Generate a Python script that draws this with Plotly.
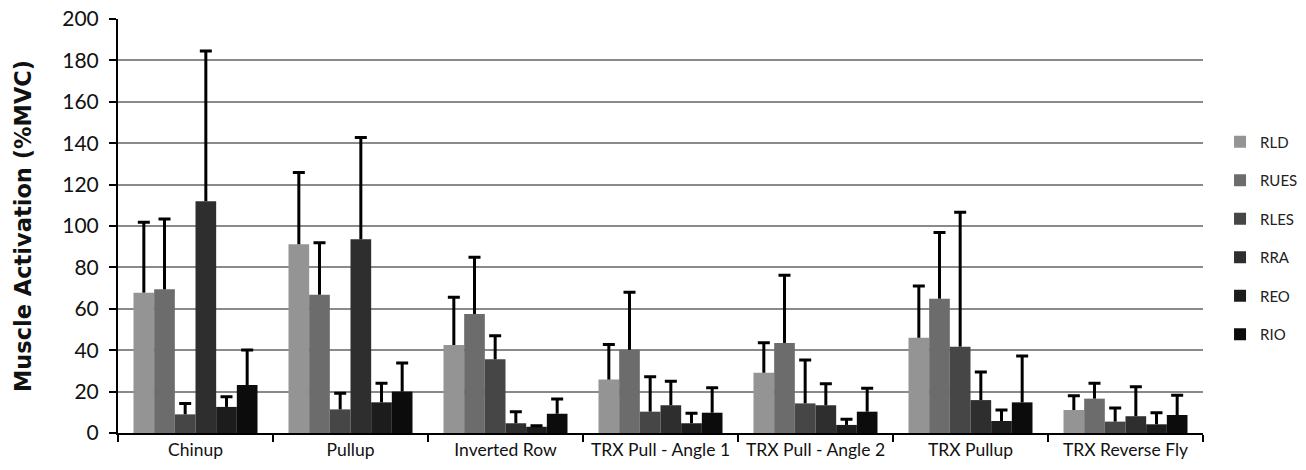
import plotly.graph_objects as go

categories = ["Chinup", "Pullup", "Inverted Row", "TRX Pull - Angle 1",
              "TRX Pull - Angle 2", "TRX Pullup", "TRX Reverse Fly"]
series_names = ["RLD", "RUES", "RLES", "RRA", "REO", "RIO"]

RLD = [67.8, 91.2, 42.5, 25.8, 29.1, 46.0, 11.1]
RUES = [69.4, 66.8, 57.5, 40.2, 43.5, 64.9, 16.6]
RLES = [9.0, 11.4, 35.6, 10.3, 14.3, 41.7, 5.5]
RRA = [112.0, 93.6, 4.7, 13.4, 13.4, 15.9, 8.1]
REO = [12.6, 14.8, 3.0, 4.7, 3.9, 5.8, 4.2]
RIO = [23.2, 20.0, 9.3, 9.8, 10.3, 14.8, 8.7]

RLD_sd = [34.0, 34.6, 23.1, 17.0, 14.5, 25.0, 6.9]
RUES_sd = [34.0, 25.1, 27.4, 27.8, 32.7, 31.9, 7.4]
RLES_sd = [5.3, 7.8, 11.4, 16.9, 21.0, 64.9, 6.6]
RRA_sd = [72.5, 49.2, 5.6, 11.6, 10.4, 13.6, 14.3]
REO_sd = [4.9, 9.2, 0.5, 4.8, 2.7, 5.3, 5.6]
RIO_sd = [16.9, 13.8, 7.1, 12.1, 11.3, 22.4, 9.5]

values = [RLD, RUES, RLES, RRA, REO, RIO]
errors = [RLD_sd, RUES_sd, RLES_sd, RRA_sd, REO_sd, RIO_sd]
colors = ["#949494", "#6c6c6c", "#464646", "#2e2e2e", "#1c1c1c", "#0c0c0c"]

fig = go.Figure()
for name, v, e, c in zip(series_names, values, errors, colors):
    # visible bars with the vertical error line (no caps)
    fig.add_trace(go.Bar(
        name=name, x=categories, y=v, marker=dict(color=c, line=dict(width=0)),
        legendgroup=name, offsetgroup=name,
        error_y=dict(type="data", array=e, arrayminus=[0] * len(e), symmetric=False,
                     color="black", thickness=3, width=0),
    ))
for name, v, e in zip(series_names, values, errors):
    # invisible helper bars, only to put the cap on top of each error line
    tops = [a + b for a, b in zip(v, e)]
    fig.add_trace(go.Bar(
        name=name, x=categories, y=tops, marker=dict(color="rgba(0,0,0,0)", line=dict(width=0)),
        offsetgroup=name, showlegend=False, hoverinfo="skip",
        error_y=dict(type="data", array=[0] * len(e), symmetric=True,
                     color="black", thickness=3, width=6),
    ))

fig.update_layout(
    width=1306, height=470,
    barmode="group", bargap=0.2, bargroupgap=0,
    plot_bgcolor="white", paper_bgcolor="white",
    margin=dict(l=118, r=103, t=19, b=37, autoexpand=False),
    font=dict(family="Lato, Liberation Sans, sans-serif", color="black"),
    showlegend=True,
    legend=dict(x=1.0157, xanchor="left", y=0.471, yanchor="middle",
                traceorder="grouped", tracegroupgap=16,
                font=dict(size=15, color="#222"), itemwidth=30,
                bgcolor="rgba(0,0,0,0)"),
)
fig.update_xaxes(
    showline=True, linecolor="black", linewidth=2, automargin=False,
    ticks="outside", tickson="boundaries", ticklen=7, tickwidth=2, tickcolor="black",
    tickfont=dict(size=17.5, color="#111"), showgrid=False,
)
fig.update_yaxes(
    range=[0, 200], dtick=20, showline=True, linecolor="black", linewidth=2,
    automargin=False,
    ticks="outside", ticklen=7, tickwidth=2, tickcolor="black",
    ticklabelstandoff=6,
    showgrid=True, gridcolor="#8a8a8a", gridwidth=2,
    tickfont=dict(size=21, color="#111"),
    title=dict(text="<b>Muscle Activation (%MVC)</b>",
               font=dict(family="DejaVu Sans, Verdana, sans-serif", size=22.5, color="#111"),
               standoff=24),
    zeroline=False,
)
fig.write_html("out.html", config={"displayModeBar": False},
               post_script="document.body.style.margin='0px';document.body.style.overflow='hidden';")
